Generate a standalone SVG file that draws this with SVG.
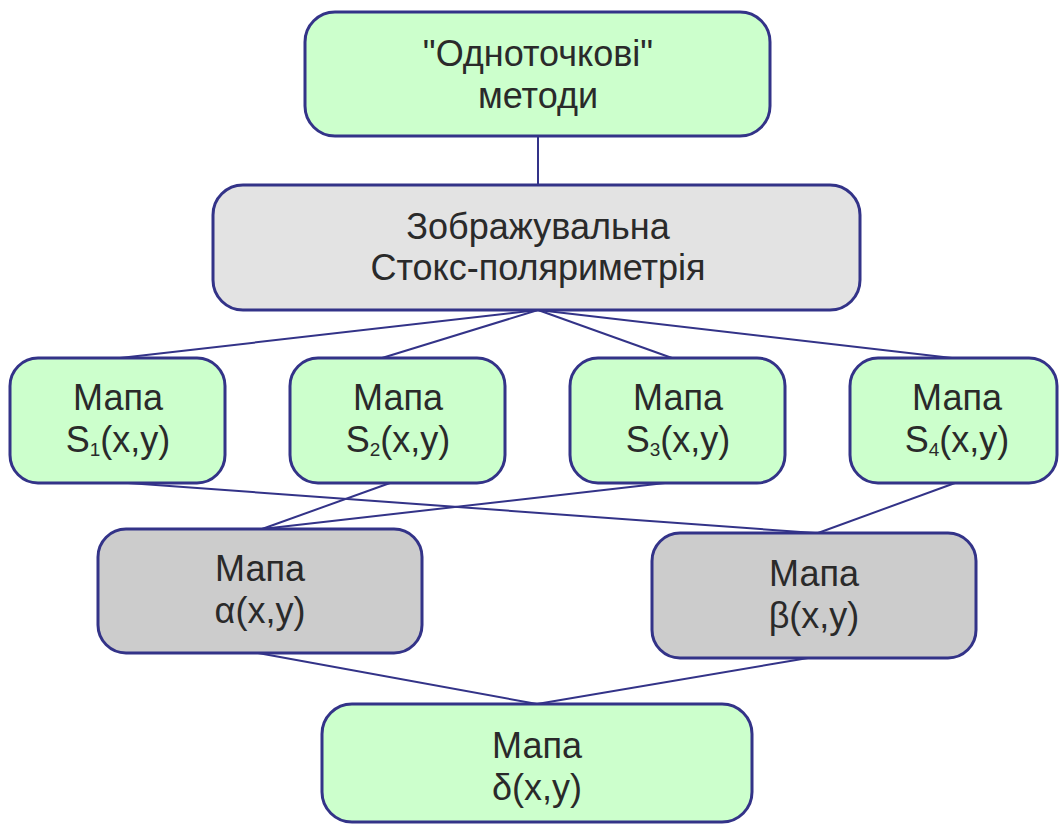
<svg xmlns="http://www.w3.org/2000/svg" width="1060" height="825" viewBox="0 0 1060 825">
<style>
.box{stroke:#333388;stroke-width:3}
.g{fill:#ccffcc}
.l{fill:#e3e3e3}
.d{fill:#cccccc}
text{font-family:"Liberation Sans",Arial,sans-serif;font-size:36px;fill:#2a2a2a;text-anchor:middle}
.sub{font-size:19px}
.c line{stroke:#333388;stroke-width:2}
</style>
<rect width="1060" height="825" fill="#ffffff"/>
<g class="c" id="connectors">
<line x1="538" y1="136" x2="538" y2="185"/>
<line x1="538" y1="310" x2="120" y2="358"/>
<line x1="538" y1="310" x2="382" y2="358"/>
<line x1="538" y1="310" x2="672" y2="358"/>
<line x1="538" y1="310" x2="952" y2="358"/>
<line x1="128" y1="483" x2="815" y2="533"/>
<line x1="390" y1="483" x2="262" y2="529"/>
<line x1="665" y1="483" x2="262" y2="529"/>
<line x1="955" y1="483" x2="818" y2="533"/>
<line x1="258" y1="653" x2="537" y2="704"/>
<line x1="808" y1="658" x2="537" y2="704"/>
</g>
<g id="n1"><rect class="box g" x="305" y="12" width="465" height="124" rx="30"/><text x="538" y="66">"Одноточкові"</text><text x="538" y="108">методи</text></g>
<g id="n2"><rect class="box l" x="213" y="185" width="647" height="125" rx="30"/><text x="538" y="239">Зображувальна</text><text x="538" y="280">Стокс-поляриметрія</text></g>
<g id="s1"><rect class="box g" x="10" y="358" width="215" height="125" rx="28"/><text x="118" y="410">Мапа</text><text x="118" y="452">S<tspan class="sub" dy="4">1</tspan><tspan dy="-4">(x,y)</tspan></text></g>
<g id="s2"><rect class="box g" x="290" y="358" width="215" height="125" rx="28"/><text x="398" y="410">Мапа</text><text x="398" y="452">S<tspan class="sub" dy="4">2</tspan><tspan dy="-4">(x,y)</tspan></text></g>
<g id="s3"><rect class="box g" x="570" y="358" width="215" height="125" rx="28"/><text x="678" y="410">Мапа</text><text x="678" y="452">S<tspan class="sub" dy="4">3</tspan><tspan dy="-4">(x,y)</tspan></text></g>
<g id="s4"><rect class="box g" x="850" y="358" width="207" height="125" rx="28"/><text x="957" y="410">Мапа</text><text x="957" y="452">S<tspan class="sub" dy="4">4</tspan><tspan dy="-4">(x,y)</tspan></text></g>
<g id="na"><rect class="box d" x="98" y="529" width="324" height="124" rx="28"/><text x="260" y="581">Мапа</text><text x="260" y="623">α(x,y)</text></g>
<g id="nb"><rect class="box d" x="652" y="533" width="324" height="125" rx="28"/><text x="814" y="586">Мапа</text><text x="814" y="628">β(x,y)</text></g>
<g id="nd"><rect class="box g" x="322" y="704" width="430" height="118" rx="30"/><text x="537" y="758">Мапа</text><text x="537" y="800">δ(x,y)</text></g>
</svg>
